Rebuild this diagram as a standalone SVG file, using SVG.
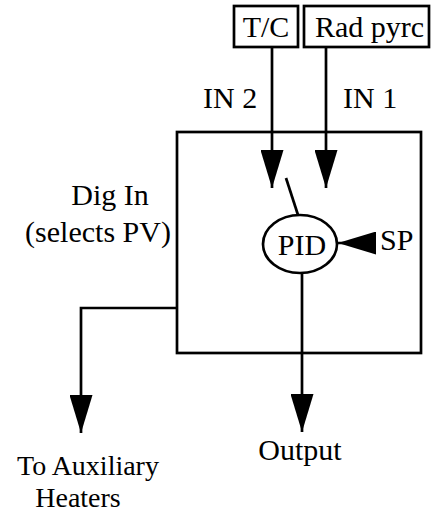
<svg xmlns="http://www.w3.org/2000/svg" width="431" height="513" viewBox="0 0 431 513">
<style>
  .ln { fill: none; stroke: #000; stroke-width: 2.7; }
  .bx { fill: #fff; stroke: #000; stroke-width: 2.7; }
  text { font-size: 30px; fill: #000; }
  .s { font-size: 28px; }
</style>
<defs>
  <marker id="ah" viewBox="0 0 38 23" refX="38" refY="11.5" markerWidth="38" markerHeight="23" markerUnits="userSpaceOnUse" orient="auto">
    <path d="M0,0 L38,11.5 L0,23 z" fill="#000"/>
  </marker>
</defs>
<rect width="431" height="513" fill="#fff"/>
<g id="controller">
  <rect class="bx" x="177" y="132" width="244" height="221"/>
</g>
<g id="connectors">
  <line class="ln" x1="272" y1="47" x2="272" y2="188" marker-end="url(#ah)"/>
  <line class="ln" x1="326" y1="47" x2="326" y2="188" marker-end="url(#ah)"/>
  <line class="ln" x1="286" y1="178" x2="298" y2="215"/>
  <line class="ln" x1="374" y1="243" x2="338" y2="243" marker-end="url(#ah)"/>
  <line class="ln" x1="302" y1="273" x2="302" y2="432" marker-end="url(#ah)"/>
  <polyline class="ln" points="177,308 81,308 81,433" marker-end="url(#ah)"/>
</g>
<g font-family="Liberation Serif, DejaVu Serif, serif">
<g id="tc">
  <rect class="bx" x="234" y="6" width="64" height="41"/>
  <text x="266" y="37" text-anchor="middle">T/C</text>
</g>
<g id="rad">
  <rect class="bx" x="304" y="6" width="125" height="41"/>
  <text x="315" y="37">Rad pyrc</text>
</g>
<g id="pid">
  <ellipse class="bx" cx="300" cy="244" rx="37" ry="29"/>
  <text x="302" y="255" text-anchor="middle">PID</text>
</g>
<g id="labels">
  <text x="203" y="108">IN 2</text>
  <text x="343" y="108">IN 1</text>
  <text x="110" y="205" text-anchor="middle">Dig In</text>
  <text x="98" y="242" text-anchor="middle">(selects PV)</text>
  <text x="380" y="250">SP</text>
  <text x="300" y="460" text-anchor="middle">Output</text>
  <text class="s" x="88" y="475" text-anchor="middle">To Auxiliary</text>
  <text class="s" x="78" y="507" text-anchor="middle">Heaters</text>
</g>
</g>
</svg>
